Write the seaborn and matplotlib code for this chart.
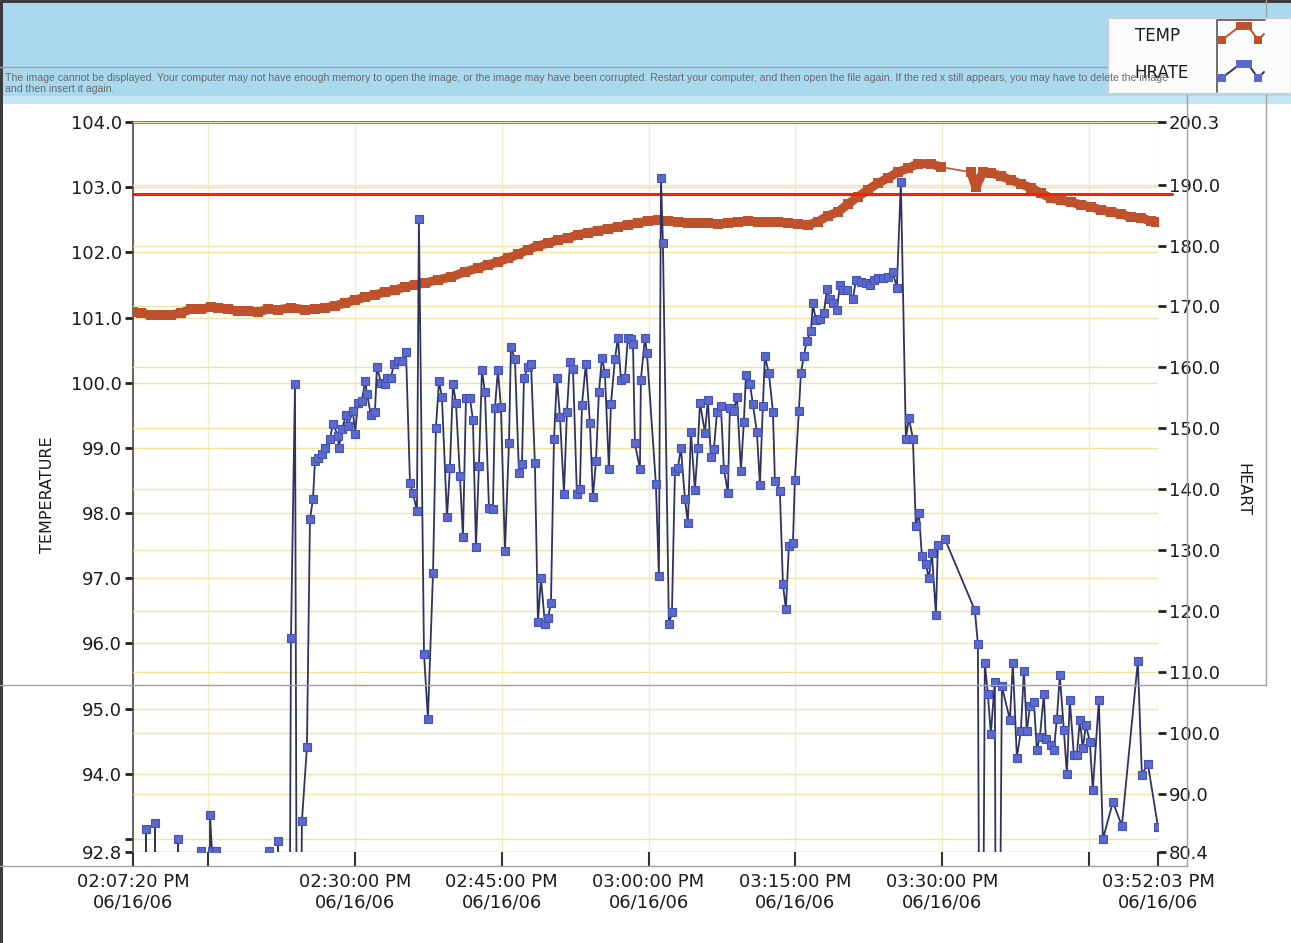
import numpy as np
import matplotlib
matplotlib.use("Agg")
import matplotlib.pyplot as plt
import seaborn as sns
from matplotlib.lines import Line2D
from matplotlib.patches import Rectangle

# ---------------- data (minutes after 02:07:20 PM) ----------------
temp_minutes = [0.00, 0.82, 1.84, 2.86, 3.88, 4.90, 5.92, 6.95, 7.97, 8.68, 9.70, 10.73,
                11.75, 12.77, 13.79, 14.81, 16.14, 17.57, 18.59, 19.61, 20.63, 21.66,
                22.68, 23.70, 24.72, 25.74, 26.76, 27.79, 28.81, 29.83, 31.16, 32.48,
                33.91, 35.24, 36.26, 37.28, 38.31, 39.33, 40.35, 41.37, 42.39, 43.41,
                44.44, 45.46, 46.48, 47.50, 48.52, 49.54, 50.56, 51.59, 52.61, 53.63,
                54.65, 55.67, 56.69, 57.71, 58.74, 59.76, 60.78, 61.80, 62.82, 63.84,
                64.87, 65.89, 66.91, 67.93, 68.95, 69.97, 70.99, 72.02, 73.04, 74.06,
                75.08, 76.10, 77.12, 78.14, 79.17, 80.19, 81.52, 82.54,
                85.60, 86.11, 86.83, 87.64, 88.67, 89.69, 90.71, 91.73, 92.75, 93.77,
                94.80, 95.82, 96.84, 97.86, 98.88, 99.90, 100.93, 101.95, 102.97,
                103.99, 104.50]
temp_values = [101.08, 101.07, 101.04, 101.04, 101.04, 101.07, 101.13, 101.13, 101.16,
               101.15, 101.13, 101.10, 101.10, 101.08, 101.13, 101.12, 101.15, 101.12,
               101.13, 101.15, 101.18, 101.22, 101.27, 101.31, 101.35, 101.39, 101.42,
               101.47, 101.50, 101.53, 101.58, 101.62, 101.70, 101.76, 101.81, 101.85,
               101.91, 101.97, 102.04, 102.10, 102.14, 102.19, 102.22, 102.27, 102.30,
               102.33, 102.36, 102.39, 102.42, 102.45, 102.48, 102.50, 102.48, 102.47,
               102.45, 102.45, 102.45, 102.43, 102.45, 102.47, 102.48, 102.47, 102.47,
               102.47, 102.45, 102.43, 102.42, 102.47, 102.56, 102.62, 102.74, 102.85,
               102.96, 103.06, 103.14, 103.23, 103.29, 103.36, 103.36, 103.31,
               103.23, 103.00, 103.23, 103.22, 103.17, 103.11, 103.05, 102.99, 102.91,
               102.83, 102.80, 102.77, 102.73, 102.70, 102.65, 102.62, 102.59, 102.54,
               102.53, 102.48, 102.47]

hr_minutes = [1.23, 1.33, 1.43, 2.15, 2.25, 2.35, 4.49, 4.60, 4.70, 6.84, 6.95, 7.05,
              7.76, 7.87, 8.07, 8.48, 8.58, 13.79, 13.89, 13.99, 14.71, 14.81, 14.91,
              15.83, 16.14, 16.55, 16.85, 17.26, 17.77, 18.08, 18.39, 18.59, 18.90,
              19.31, 19.61, 20.12, 20.43, 20.94, 21.04, 21.35, 21.76, 21.96, 22.47,
              22.68, 22.98, 23.39, 23.70, 23.90, 24.31, 24.72, 24.92, 25.33, 25.74,
              25.95, 26.35, 26.66, 27.07, 27.48, 27.89, 28.30, 28.60, 29.01, 29.21,
              29.73, 30.13, 30.65, 30.95, 31.26, 31.56, 32.08, 32.38, 32.69, 32.99,
              33.40, 33.71, 34.02, 34.42, 34.73, 35.04, 35.34, 35.65, 35.96, 36.37,
              36.77, 36.98, 37.28, 37.59, 38.00, 38.41, 38.61, 39.02, 39.43, 39.74,
              39.94, 40.35, 40.66, 41.06, 41.37, 41.68, 42.09, 42.39, 42.70, 43.01,
              43.31, 43.62, 44.03, 44.33, 44.64, 44.95, 45.35, 45.66, 45.87, 46.27,
              46.68, 46.99, 47.30, 47.60, 47.91, 48.21, 48.62, 48.83, 49.24, 49.54,
              49.85, 50.26, 50.56, 50.87, 51.08, 51.28, 51.79, 51.89, 52.30, 52.51,
              53.42, 53.73, 53.94, 54.14, 54.75, 55.06, 55.37, 55.67, 55.98, 56.39,
              56.69, 57.00, 57.41, 57.71, 57.92, 58.43, 58.74, 59.04, 59.35, 59.66,
              60.06, 60.37, 60.78, 60.98, 61.39, 61.70, 62.11, 62.41, 62.62, 63.03,
              63.33, 63.74, 64.05, 64.35, 64.56, 64.97, 65.38, 65.58, 66.09, 66.40,
              66.70, 67.01, 67.42, 67.62, 68.03, 68.24, 68.54, 68.85, 69.26, 69.46,
              69.77, 70.18, 70.59, 70.89, 71.20, 71.51, 71.91, 72.22, 72.53, 72.94,
              73.55, 73.85, 74.37, 74.88, 75.28, 75.69, 76.10, 76.61, 77.12, 77.63,
              78.04, 78.45, 78.96, 79.27, 79.68, 79.98, 80.29, 80.60, 81.00, 81.31,
              81.62, 82.03, 82.23, 82.95, 86.01, 86.32, 86.62, 87.03, 87.34, 87.64,
              88.05, 88.26, 88.77, 89.59, 89.89, 90.30, 90.71, 91.02, 91.32, 91.63,
              92.04, 92.34, 92.65, 93.06, 93.26, 93.77, 94.08, 94.39, 94.69, 95.10,
              95.41, 95.71, 96.12, 96.43, 96.74, 97.04, 97.35, 97.76, 98.06, 98.68,
              99.09, 100.11, 101.03, 102.66, 103.07, 103.68, 104.72]
hr_values = [0, 84.2, 0, 0, 85.2, 0, 0, 82.5, 0, 0, 80.6, 0,
             0, 86.5, 80.5, 80.5, 0, 0, 80.6, 0, 0, 82.2, 0,
             0, 115.5, 157.3, 0, 85.5, 97.7, 135.1, 138.4, 144.6, 145.1,
             145.8, 146.8, 148.3, 150.7, 148.8, 146.8, 149.9, 152.1, 150.4, 152.9,
             149.1, 154.2, 154.5, 157.7, 155.7, 152.1, 152.6, 160.1, 157.5, 157.3,
             158.2, 158.3, 160.6, 161.1, 161.1, 162.6, 141.0, 139.4, 136.4, 184.3,
             113.0, 102.3, 126.2, 150.1, 157.7, 155.2, 135.4, 143.5, 157.3, 154.2,
             142.2, 132.1, 155.0, 155.0, 151.4, 130.5, 143.8, 159.5, 155.9, 136.9,
             136.7, 153.4, 159.6, 153.5, 129.8, 147.5, 163.3, 161.4, 142.7, 144.2,
             158.2, 160.0, 160.6, 144.3, 118.1, 125.4, 117.8, 118.8, 121.3, 148.3,
             158.2, 151.9, 139.2, 152.6, 160.8, 159.8, 139.2, 140.0, 153.9, 160.6,
             150.9, 138.7, 144.6, 155.9, 161.6, 159.1, 143.3, 154.0, 161.4, 164.9,
             158.0, 158.3, 164.9, 164.6, 163.9, 147.5, 143.3, 158.0, 164.9, 162.3,
             140.9, 125.7, 191.1, 180.4, 117.8, 119.8, 143.0, 143.5, 146.8, 138.4,
             134.4, 149.4, 139.9, 146.8, 154.2, 149.3, 154.7, 145.3, 146.6, 152.6,
             153.7, 143.3, 139.4, 153.4, 152.9, 155.2, 143.0, 151.1, 158.7, 157.3,
             154.0, 149.4, 140.7, 153.7, 161.8, 159.0, 152.7, 141.4, 139.7, 124.4,
             120.3, 130.6, 131.1, 141.5, 152.9, 159.1, 161.9, 164.4, 165.9, 170.5,
             167.7, 168.0, 169.0, 172.8, 171.3, 170.5, 169.4, 173.5, 172.7, 172.7,
             171.2, 174.3, 174.0, 173.8, 173.5, 174.3, 174.6, 174.6, 174.8, 175.6,
             173.1, 190.4, 148.3, 151.7, 148.3, 133.9, 136.1, 129.0, 127.7, 125.4,
             129.5, 119.4, 130.8, 131.8, 120.1, 114.5, 0, 111.4, 106.3, 99.8,
             108.4, 0, 107.6, 102.1, 111.5, 95.9, 100.3, 110.2, 100.2, 104.3,
             105.1, 97.2, 99.3, 106.3, 98.9, 98.0, 97.2, 102.3, 109.4, 100.5,
             93.2, 105.4, 96.4, 96.4, 102.1, 97.4, 101.3, 98.5, 90.6, 105.4,
             82.5, 88.6, 84.7, 111.7, 93.1, 94.9, 84.5]

temp_limit = 102.9

x_tick_minutes = [0, 7.67, 22.67, 37.67, 52.67, 67.67, 82.67, 97.67, 104.72]
x_tick_labels = ["02:07:20 PM\n06/16/06", "", "02:30:00 PM\n06/16/06",
                 "02:45:00 PM\n06/16/06", "03:00:00 PM\n06/16/06",
                 "03:15:00 PM\n06/16/06", "03:30:00 PM\n06/16/06", "",
                 "03:52:03 PM\n06/16/06"]
left_ticks = [92.8, 93, 94, 95, 96, 97, 98, 99, 100, 101, 102, 103, 104]
left_labels = ["92.8", "", "94.0", "95.0", "96.0", "97.0", "98.0", "99.0",
               "100.0", "101.0", "102.0", "103.0", "104.0"]
right_ticks = [80.4, 90, 100, 110, 120, 130, 140, 150, 160, 170, 180, 190, 200.3]
right_labels = ["80.4", "90.0", "100.0", "110.0", "120.0", "130.0", "140.0",
                "150.0", "160.0", "170.0", "180.0", "190.0", "200.3"]

msg_line1 = ("The image cannot be displayed. Your computer may not have enough memory to "
             "open the image, or the image may have been corrupted. Restart your computer, "
             "and then open the file again. If the red x still appears, you may have to "
             "delete the image")
msg_line2 = "and then insert it again."

# ---------------- style ----------------
sns.set_style("ticks")
plt.rcParams["font.family"] = ["DejaVu Sans"]

TEMP_C = "#c0512d"
HR_FACE = "#5b69cf"
HR_EDGE = "#4452b4"
HR_LINE = "#2e3360"
GRID_C = "#efe5a0"
TXT = "#1b1b1b"

W, H = 1291, 943
fig = plt.figure(figsize=(W / 100, H / 100), dpi=100)
fig.patch.set_facecolor("white")


def fx(px):
    return px / W


def fy(py):
    return 1 - py / H


# background: blue band at top, dark scan border
fig.patches.append(Rectangle((0, fy(104)), 1, fy(0) - fy(104), transform=fig.transFigure,
                             facecolor="#a9d9ef", edgecolor="none", zorder=-10))
fig.patches.append(Rectangle((0, fy(104)), 1, fy(96) - fy(104), transform=fig.transFigure,
                             facecolor="#c4e5f4", edgecolor="none", zorder=-10))
fig.patches.append(Rectangle((0, fy(3)), 1, fy(0) - fy(3), transform=fig.transFigure,
                             facecolor="#3b3b3b", edgecolor="none", zorder=-9))
fig.patches.append(Rectangle((0, 0), fx(3), 1, transform=fig.transFigure,
                             facecolor="#3b3b3b", edgecolor="none", zorder=-9))

rect = [fx(133), fy(852), fx(1158) - fx(133), fy(122) - fy(852)]
axg = fig.add_axes(rect)
axg.set_facecolor("white")
axg.set_xlim(0, 104.72)
axg.set_ylim(92.8, 104.0)
axg2 = axg.twinx()
axg2.set_ylim(80.4, 200.3)
axT = axg.twinx()
axT.set_ylim(92.8, 104.0)
axT.set_axis_off()
axH = axg.twinx()
axH.set_ylim(80.4, 200.3)
axH.set_axis_off()

# ticks & grid
axg.set_xticks(x_tick_minutes)
axg.set_xticklabels(x_tick_labels)
axg.set_yticks(left_ticks)
axg.set_yticklabels(left_labels)
axg2.set_yticks(right_ticks)
axg2.set_yticklabels(right_labels)
axg.grid(True, axis="y", color=GRID_C, lw=1.0)
axg.grid(True, axis="x", color="#f3edc4", lw=1.0)
axg2.grid(True, axis="y", color=GRID_C, lw=1.0)
axg.tick_params(axis="y", direction="out", length=6, width=2, color="#222222",
                labelsize=13, labelcolor=TXT, pad=2, left=True, right=False)
axg.tick_params(axis="x", direction="out", length=11, width=1.5, color="#333333",
                labelsize=13, labelcolor=TXT, pad=4, bottom=True, top=False)
axg2.tick_params(axis="y", direction="out", length=6, width=2, color="#222222",
                 labelsize=13, labelcolor=TXT, pad=2, right=True, left=False)
for s in ["right", "bottom"]:
    axg.spines[s].set_visible(False)
axg.spines["left"].set_color("#4a4a4a")
axg.spines["left"].set_linewidth(1.2)
axg.spines["top"].set_color("#505050")
axg.spines["top"].set_linewidth(1.8)
for s in axg2.spines.values():
    s.set_visible(False)

# temperature
tm = np.asarray(temp_minutes)
tv = np.asarray(temp_values)
sns.lineplot(x=tm, y=tv, ax=axT, color=TEMP_C, lw=1.2, estimator=None, sort=False)
splits = np.where(np.diff(tm) > 2)[0] + 1
for seg_x, seg_y in zip(np.split(tm, splits), np.split(tv, splits)):
    sns.lineplot(x=seg_x, y=seg_y, ax=axT, color=TEMP_C, lw=6.5, marker="s",
                 markersize=7.5, markeredgewidth=0, estimator=None, sort=False)
axT.axhline(temp_limit, xmin=0, xmax=1.014, color="#ff1e00", lw=2.2, clip_on=False,
            zorder=5)

# heart rate
sns.lineplot(x=hr_minutes, y=hr_values, ax=axH, color=HR_LINE, lw=1.3, marker="s",
             markersize=6.3, markerfacecolor=HR_FACE, markeredgecolor=HR_EDGE,
             markeredgewidth=0.8, estimator=None, sort=False)
for a in (axT, axH):
    a.set_xlim(0, 104.72)

# axis titles
fig.text(fx(48), fy(495), "TEMPERATURE", rotation=90, fontsize=11.5, color=TXT,
         ha="center", va="center")
fig.text(fx(1243), fy(490), "HEART", rotation=-90, fontsize=11.5, color=TXT,
         ha="center", va="center")

# placeholder frame lines of the scanned page
FR = "#a0a0a0"
for (x0, y0, x1, y1) in [(0, 67, 1266, 67), (1266, 0, 1266, 685), (0, 685, 1266, 685),
                         (1187, 67, 1187, 866), (0, 866, 1187, 866)]:
    fig.lines.append(Line2D([fx(x0), fx(x1)], [fy(y0), fy(y1)], transform=fig.transFigure,
                            color=FR, lw=1.0, zorder=2))

# legend box
fig.patches.append(Rectangle((fx(1108), fy(93)), fx(1291) - fx(1108), fy(18) - fy(93),
                             transform=fig.transFigure, facecolor="#fbfbfb",
                             edgecolor="#d0d0d0", lw=1, zorder=3))
fig.text(fx(1158), fy(36), "TEMP", fontsize=12, color=TXT, ha="center", va="center",
         zorder=4)
fig.text(fx(1162), fy(73), "HRATE", fontsize=12, color=TXT, ha="center", va="center",
         zorder=4)
fig.lines.append(Line2D([fx(1217), fx(1217), fx(1265)], [fy(92), fy(20), fy(20)],
                        transform=fig.transFigure, color="#555555", lw=1.2, zorder=4))
for dy, col, fc in [(0, TEMP_C, TEMP_C), (38, HR_LINE, HR_FACE)]:
    xs = [1222, 1240, 1248, 1258, 1264]
    ys = [40 + dy, 26 + dy, 26 + dy, 40 + dy, 34 + dy]
    fig.lines.append(Line2D([fx(v) for v in xs], [fy(v) for v in ys],
                            transform=fig.transFigure, color=col, lw=1.4, zorder=4))
    fig.lines.append(Line2D([fx(v) for v in xs[:4]], [fy(v) for v in ys[:4]],
                            transform=fig.transFigure, ls="none", marker="s",
                            markersize=5.5, markerfacecolor=fc, markeredgewidth=0,
                            zorder=4))

# broken-image message
fig.text(fx(5), fy(78), msg_line1, fontsize=7.6, color="#6a6a6a", ha="left", va="center",
         family=["Liberation Sans", "DejaVu Sans"], zorder=5)
fig.text(fx(5), fy(89), msg_line2, fontsize=7.6, color="#6a6a6a", ha="left", va="center",
         family=["Liberation Sans", "DejaVu Sans"], zorder=5)

fig.savefig("out.png", dpi=100)
